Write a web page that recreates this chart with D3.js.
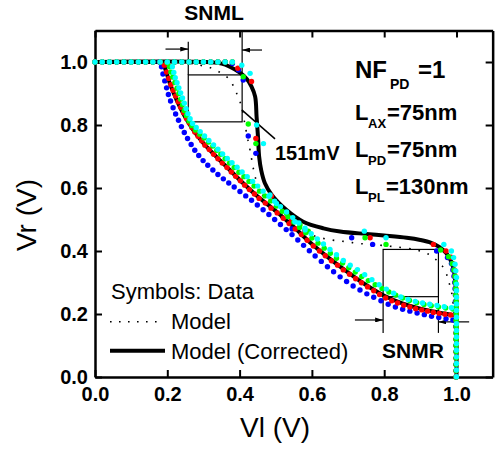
<!DOCTYPE html>
<html><head><meta charset="utf-8">
<script src="https://cdn.jsdelivr.net/npm/d3@7"></script>
<style>
html,body{margin:0;padding:0;background:#fff;}
svg{display:block;font-family:"Liberation Sans",Arial,sans-serif;}
</style></head><body>
<svg id="chart" width="495" height="451"></svg>
<script>
// ---------- tick values / labels ----------
const xTicks = [0, 0.2, 0.4, 0.6, 0.8, 1.0];
const yTicks = [0, 0.2, 0.4, 0.6, 0.8, 1.0];
const xTitle = "Vl (V)";
const yTitle = "Vr (V)";

// ---------- measured data: lower curve (Vr vs Vl) ----------
const blueLower = [[0,1],[0.02,1],[0.04,1],[0.06,1],[0.08,1],[0.1,1],[0.12,1],[0.14,1],[0.16,1],[0.178,1],[0.184,0.985],[0.188,0.962],[0.193,0.94],[0.198,0.918],[0.203,0.897],[0.209,0.876],[0.216,0.855],[0.223,0.835],[0.231,0.815],[0.239,0.795],[0.247,0.776],[0.256,0.757],[0.266,0.738],[0.276,0.72],[0.287,0.703],[0.299,0.687],[0.312,0.672],[0.326,0.657],[0.34,0.643],[0.355,0.629],[0.37,0.616],[0.385,0.603],[0.401,0.589],[0.417,0.575],[0.433,0.561],[0.449,0.546],[0.465,0.531],[0.481,0.516],[0.497,0.5],[0.513,0.484],[0.529,0.468],[0.545,0.452],[0.561,0.435],[0.577,0.418],[0.593,0.401],[0.609,0.384],[0.626,0.367],[0.643,0.35],[0.66,0.334],[0.678,0.318],[0.696,0.303],[0.714,0.289],[0.733,0.276],[0.752,0.264],[0.771,0.253],[0.791,0.242],[0.811,0.231],[0.831,0.222],[0.851,0.215],[0.871,0.209],[0.891,0.203],[0.911,0.198],[0.931,0.193],[0.951,0.189],[0.971,0.185],[0.99,0.181]];
const redLower = [[0,1],[0.02,1],[0.04,1],[0.06,1],[0.08,1],[0.1,1],[0.12,1],[0.14,1],[0.16,1],[0.18,1],[0.192,0.99],[0.198,0.968],[0.204,0.948],[0.21,0.928],[0.216,0.91],[0.223,0.892],[0.23,0.874],[0.237,0.856],[0.245,0.839],[0.253,0.821],[0.261,0.806],[0.268,0.792],[0.276,0.778],[0.285,0.764],[0.295,0.75],[0.304,0.736],[0.316,0.722],[0.328,0.707],[0.34,0.693],[0.352,0.679],[0.365,0.665],[0.377,0.651],[0.389,0.637],[0.402,0.623],[0.414,0.609],[0.427,0.595],[0.441,0.581],[0.454,0.567],[0.471,0.552],[0.487,0.536],[0.504,0.521],[0.521,0.504],[0.537,0.487],[0.554,0.47],[0.571,0.452],[0.587,0.434],[0.604,0.416],[0.621,0.4],[0.637,0.385],[0.654,0.369],[0.671,0.355],[0.687,0.34],[0.704,0.326],[0.721,0.312],[0.737,0.299],[0.754,0.286],[0.771,0.274],[0.787,0.262],[0.804,0.251],[0.821,0.242],[0.837,0.235],[0.854,0.228],[0.871,0.222],[0.887,0.217],[0.904,0.213],[0.92,0.209],[0.936,0.205],[0.952,0.202],[0.968,0.199],[0.984,0.197],[0.998,0.195]];
const greenLower = [[0,1],[0.02,1],[0.04,1],[0.06,1],[0.08,1],[0.1,1],[0.12,1],[0.14,1],[0.16,1],[0.18,1],[0.2,0.998],[0.206,0.985],[0.21,0.968],[0.215,0.952],[0.221,0.935],[0.227,0.917],[0.232,0.9],[0.237,0.882],[0.242,0.864],[0.247,0.846],[0.253,0.83],[0.26,0.813],[0.268,0.798],[0.278,0.784],[0.29,0.771],[0.302,0.759],[0.314,0.746],[0.326,0.733],[0.337,0.72],[0.348,0.707],[0.36,0.693],[0.372,0.679],[0.385,0.665],[0.398,0.65],[0.412,0.636],[0.426,0.621],[0.44,0.606],[0.455,0.59],[0.47,0.575],[0.486,0.559],[0.502,0.543],[0.518,0.526],[0.534,0.509],[0.55,0.492],[0.566,0.475],[0.583,0.458],[0.6,0.441],[0.617,0.425],[0.634,0.409],[0.651,0.393],[0.668,0.377],[0.685,0.362],[0.702,0.347],[0.72,0.333],[0.738,0.319],[0.756,0.306],[0.775,0.293],[0.794,0.281],[0.813,0.27],[0.832,0.26],[0.851,0.251],[0.87,0.243],[0.89,0.236],[0.91,0.23],[0.93,0.226],[0.95,0.222],[0.97,0.219],[0.99,0.216]];
const cyanLower = [[0,1],[0.02,1],[0.04,1],[0.06,1],[0.08,1],[0.1,1],[0.12,1],[0.14,1],[0.16,1],[0.18,1],[0.2,1],[0.214,0.985],[0.218,0.967],[0.222,0.95],[0.227,0.934],[0.232,0.918],[0.237,0.902],[0.242,0.886],[0.247,0.869],[0.252,0.852],[0.257,0.836],[0.263,0.82],[0.27,0.805],[0.28,0.792],[0.291,0.779],[0.303,0.765],[0.315,0.751],[0.328,0.737],[0.34,0.723],[0.353,0.708],[0.366,0.694],[0.379,0.68],[0.393,0.666],[0.407,0.651],[0.421,0.636],[0.436,0.621],[0.45,0.606],[0.465,0.59],[0.481,0.574],[0.497,0.558],[0.513,0.541],[0.53,0.524],[0.547,0.506],[0.564,0.489],[0.581,0.472],[0.598,0.455],[0.615,0.438],[0.632,0.422],[0.65,0.405],[0.668,0.388],[0.687,0.37],[0.706,0.355],[0.726,0.341],[0.746,0.325],[0.766,0.309],[0.786,0.293],[0.806,0.279],[0.826,0.266],[0.846,0.254],[0.866,0.246],[0.886,0.24],[0.906,0.235],[0.926,0.231],[0.946,0.227],[0.966,0.223],[0.986,0.22]];

// ---------- measured data: upper curve (Vl vs Vr) ----------
const blueUpper = [[0.2,1],[0.22,1],[0.24,1],[0.26,1],[0.28,1],[0.3,1],[0.32,1],[0.34,1],[0.36,1],[0.38,0.995],[0.397,0.975],[0.41,0.943],[0.424,0.765],[0.445,0.71],[0.545,0.47],[0.71,0.442],[0.768,0.421],[0.945,0.4],[0.975,0.379],[0.986,0.36],[0.99,0.34],[0.993,0.32],[0.995,0.3],[0.996,0.28],[0.997,0.26],[0.997,0.24],[0.998,0.22],[0.998,0.2],[0.998,0.18],[0.998,0.16],[0.999,0.14],[0.999,0.12],[0.999,0.1],[0.999,0.08],[0.999,0.06],[0.999,0.04],[0.999,0.02],[0.999,0]];
const redUpper = [[0.2,1],[0.22,1],[0.24,1],[0.26,1],[0.28,1],[0.3,1],[0.32,1],[0.34,1],[0.36,1],[0.38,1],[0.395,0.98],[0.433,0.938],[0.445,0.757],[0.488,0.575],[0.544,0.498],[0.58,0.465],[0.761,0.442],[0.936,0.421],[0.971,0.4],[0.985,0.38],[0.99,0.36],[0.994,0.34],[0.996,0.32],[0.997,0.3],[0.998,0.28],[0.998,0.26],[0.999,0.24],[0.999,0.22],[0.999,0.2],[0.999,0.18],[0.999,0.16],[0.999,0.14],[0.999,0.12],[0.999,0.1],[0.999,0.08],[0.999,0.06],[0.999,0.04],[0.999,0.02],[0.999,0]];
const greenUpper = [[0.2,1],[0.22,1],[0.24,1],[0.26,1],[0.28,1],[0.3,1],[0.32,1],[0.34,1],[0.36,1],[0.38,1],[0.41,0.953],[0.424,0.803],[0.445,0.741],[0.53,0.519],[0.567,0.483],[0.59,0.463],[0.747,0.442],[0.805,0.421],[0.956,0.403],[0.978,0.382],[0.988,0.36],[0.993,0.34],[0.996,0.32],[0.997,0.3],[0.998,0.28],[0.998,0.26],[0.999,0.24],[0.999,0.22],[0.999,0.2],[0.999,0.18],[0.999,0.16],[0.999,0.14],[0.999,0.12],[0.999,0.1],[0.999,0.08],[0.999,0.06],[0.999,0.04],[0.999,0.02],[0.999,0]];
const cyanUpper = [[0.22,1],[0.24,1],[0.26,1],[0.28,1],[0.3,1],[0.32,1],[0.34,1],[0.36,1],[0.38,1],[0.406,0.99],[0.429,0.964],[0.447,0.8],[0.466,0.741],[0.484,0.578],[0.502,0.551],[0.553,0.493],[0.581,0.467],[0.745,0.463],[0.805,0.442],[0.965,0.421],[0.986,0.4],[0.992,0.379],[0.996,0.358],[0.998,0.337],[1,0.316],[1,0.295],[1,0.274],[1,0.253],[1,0.232],[1,0.211],[1,0.19],[1,0.169],[1,0.148],[1,0.127],[1,0.106],[1,0.085],[1,0.064],[1,0.043],[1,0.022],[1,0.001]];

// ---------- model curves ----------
const modelLower = [[0,1],[0.17,1],[0.185,0.996],[0.192,0.985],[0.207,0.935],[0.226,0.88],[0.249,0.827],[0.272,0.785],[0.3,0.743],[0.336,0.7],[0.373,0.658],[0.41,0.616],[0.45,0.574],[0.5,0.527],[0.55,0.476],[0.6,0.423],[0.65,0.376],[0.7,0.333],[0.75,0.293],[0.8,0.259],[0.85,0.235],[0.9,0.218],[0.95,0.206],[1.0,0.196]];
const modelUpper = [[0,1],[0.2,1],[0.25,0.998],[0.29,0.99],[0.323,0.98],[0.35,0.964],[0.373,0.943],[0.39,0.905],[0.405,0.86],[0.415,0.8],[0.424,0.747],[0.429,0.72],[0.438,0.662],[0.447,0.62],[0.46,0.585],[0.48,0.55],[0.51,0.51],[0.55,0.48],[0.609,0.447],[0.655,0.435],[0.692,0.43],[0.728,0.424],[0.765,0.421],[0.825,0.414],[0.89,0.403],[0.927,0.387],[0.95,0.365],[0.968,0.34],[0.977,0.308],[0.986,0.271],[0.992,0.22],[0.996,0.15],[0.999,0.07],[1.0,0]];
const correctedLower = [[0,1],[0.17,1],[0.183,0.998],[0.19,0.99],[0.207,0.932],[0.226,0.879],[0.249,0.826],[0.272,0.784],[0.3,0.742],[0.336,0.699],[0.373,0.657],[0.41,0.615],[0.45,0.573],[0.5,0.527],[0.55,0.476],[0.6,0.422],[0.65,0.375],[0.7,0.332],[0.75,0.292],[0.8,0.258],[0.85,0.234],[0.9,0.217],[0.95,0.205],[1.0,0.195]];
const correctedUpper = [[0,1],[0.3,1],[0.35,0.995],[0.373,0.985],[0.401,0.966],[0.42,0.946],[0.433,0.922],[0.443,0.89],[0.447,0.826],[0.451,0.76],[0.454,0.7],[0.46,0.655],[0.47,0.615],[0.489,0.578],[0.53,0.53],[0.576,0.493],[0.632,0.472],[0.678,0.462],[0.75,0.454],[0.8,0.449],[0.862,0.442],[0.9,0.435],[0.93,0.426],[0.952,0.413],[0.972,0.393],[0.986,0.365],[0.994,0.33],[0.998,0.28],[1.0,0.2],[1.0,0]];

// ---------- annotation values ----------
const snmL = {x0:0.258, x1:0.407, y0:0.81, y1:0.959};
const snmR = {x0:0.797, x1:0.95, y0:0.255, y1:0.405};
const snmLabel = "151mV";

// ---------- setup ----------
const svg = d3.select("#chart");
const x = d3.scaleLinear().domain([0, 1.1]).range([95, 492.65]);
const y = d3.scaleLinear().domain([0, 1.1]).range([377, 30.5]);

const defs = svg.append("defs");
defs.append("marker").attr("id","arr").attr("viewBox","0 0 10 10")
  .attr("refX",10).attr("refY",5).attr("markerWidth",8).attr("markerHeight",5)
  .attr("markerUnits","userSpaceOnUse").attr("orient","auto").attr("preserveAspectRatio","none")
  .append("path").attr("d","M0,0L10,5L0,10Z").attr("fill","#000");

// ---------- axes ----------
const fmt = d3.format(".1f");
const tickFont = g => g.selectAll("text").attr("font-size",20).attr("font-weight","bold")
  .attr("font-family","'Liberation Sans',Arial,sans-serif").attr("fill","#000");
const axStyle = g => { g.select(".domain").attr("stroke","#000").attr("stroke-width",2.5);
  g.selectAll(".tick line").attr("stroke","#000").attr("stroke-width",2); };

svg.append("g").attr("transform",`translate(0,${y(0)})`)
  .call(d3.axisBottom(x).tickValues(xTicks).tickFormat(fmt).tickSize(-7).tickSizeOuter(0).tickPadding(10))
  .call(axStyle).call(tickFont);
svg.append("g").attr("transform",`translate(0,${y(1.1)})`)
  .call(d3.axisTop(x).tickValues(xTicks).tickFormat("").tickSize(-7).tickSizeOuter(0))
  .call(axStyle);
svg.append("g").attr("transform",`translate(${x(0)},0)`)
  .call(d3.axisLeft(y).tickValues(yTicks).tickFormat(fmt).tickSize(-7).tickSizeOuter(0).tickPadding(7))
  .call(axStyle).call(tickFont);
svg.append("g").attr("transform",`translate(${x(1.1)},0)`)
  .call(d3.axisRight(y).tickValues(yTicks).tickFormat("").tickSize(-7).tickSizeOuter(0))
  .call(axStyle);

svg.append("text").attr("x",275).attr("y",437).attr("text-anchor","middle")
  .attr("font-size",28).text(xTitle);
svg.append("text").attr("transform","translate(36,215) rotate(-90)").attr("text-anchor","middle")
  .attr("font-size",28).text(yTitle);

// ---------- SNM boxes & arrows ----------
const ann = svg.append("g").attr("stroke","#000").attr("stroke-width",1.2).attr("fill","none");
ann.append("rect").attr("x",x(snmL.x0)).attr("y",y(snmL.y1))
  .attr("width",x(snmL.x1)-x(snmL.x0)).attr("height",y(snmL.y0)-y(snmL.y1));
ann.append("line").attr("x1",x(snmL.x0)).attr("x2",x(snmL.x0)).attr("y1",y(snmL.y1)).attr("y2",y(1.064));
ann.append("line").attr("x1",x(snmL.x1)).attr("x2",x(snmL.x1)).attr("y1",y(snmL.y1)).attr("y2",y(1.1));
ann.append("line").attr("x1",x(0.195)).attr("x2",x(snmL.x0)).attr("y1",y(1.041)).attr("y2",y(1.041)).attr("marker-end","url(#arr)");
ann.append("line").attr("x1",x(0.462)).attr("x2",x(snmL.x1)).attr("y1",y(1.038)).attr("y2",y(1.038)).attr("marker-end","url(#arr)");
ann.append("line").attr("x1",x(0.406)).attr("y1",y(0.848)).attr("x2",x(0.498)).attr("y2",y(0.756)).attr("stroke-width",1.5);

ann.append("rect").attr("x",x(snmR.x0)).attr("y",y(snmR.y1))
  .attr("width",x(snmR.x1)-x(snmR.x0)).attr("height",y(snmR.y0)-y(snmR.y1));
ann.append("line").attr("x1",x(snmR.x0)).attr("x2",x(snmR.x0)).attr("y1",y(snmR.y0)).attr("y2",y(0.14));
ann.append("line").attr("x1",x(snmR.x1)).attr("x2",x(snmR.x1)).attr("y1",y(snmR.y0)).attr("y2",y(0.14));
ann.append("line").attr("x1",x(0.719)).attr("x2",x(snmR.x0)).attr("y1",y(0.181)).attr("y2",y(0.181)).attr("marker-end","url(#arr)");
ann.append("line").attr("x1",x(1.035)).attr("x2",x(snmR.x1)).attr("y1",y(0.175)).attr("y2",y(0.175)).attr("marker-end","url(#arr)");

// ---------- model lines ----------
const line = d3.line().x(d=>x(d[0])).y(d=>y(d[1])).curve(d3.curveCatmullRom.alpha(0.5));
[modelLower, modelUpper].forEach(d => svg.append("path").datum(d).attr("d",line)
  .attr("fill","none").attr("stroke","#000").attr("stroke-width",1.6).attr("stroke-dasharray","1.6,8"));
[correctedLower, correctedUpper].forEach(d => svg.append("path").datum(d).attr("d",line)
  .attr("fill","none").attr("stroke","#000").attr("stroke-width",4).attr("stroke-linejoin","round"));

// ---------- data symbols ----------
const sets = [
  {data: blueLower, color:"#0000FF"}, {data: blueUpper, color:"#0000FF"},
  {data: redLower, color:"#FF0000"}, {data: redUpper, color:"#FF0000"},
  {data: greenLower, color:"#00FF00"}, {data: greenUpper, color:"#00FF00"},
  {data: cyanLower, color:"#00FFFF"}, {data: cyanUpper, color:"#00FFFF"}
];
sets.forEach(s => svg.append("g").selectAll("circle").data(s.data).join("circle")
  .attr("cx",d=>x(d[0])).attr("cy",d=>y(d[1])).attr("r",2.7).attr("fill",s.color));

// ---------- labels ----------
const bold = (t,px,py,fs,anchor) => svg.append("text").attr("x",px).attr("y",py)
  .attr("font-size",fs).attr("font-weight","bold").attr("text-anchor",anchor||"start").text(t);
bold("SNML",214,20,21,"middle");
bold("SNMR",382,358,21);
bold(snmLabel,275,160,20);
bold("NF",355,78,24); bold("PD",390,89,14); bold("=1",418,78,24);
bold("L",355,120,22); bold("AX",368,128,13); bold("=75nm",387,120,22);
bold("L",355,157,22); bold("PD",368,165,13); bold("=75nm",387,157,22);
bold("L",355,193.5,22); bold("PL",368,201.5,13); bold("=130nm",386,193.5,22);

// ---------- legend ----------
svg.append("text").attr("x",111).attr("y",299).attr("font-size",22).text("Symbols: Data");
svg.append("line").attr("x1",110).attr("x2",158).attr("y1",321.7).attr("y2",321.7)
  .attr("stroke","#000").attr("stroke-width",1.6).attr("stroke-dasharray","1.6,7.4");
svg.append("text").attr("x",171).attr("y",329).attr("font-size",22).text("Model");
svg.append("line").attr("x1",110).attr("x2",165).attr("y1",350.7).attr("y2",350.7)
  .attr("stroke","#000").attr("stroke-width",4);
svg.append("text").attr("x",171).attr("y",359).attr("font-size",22).text("Model (Corrected)");
</script>
</body></html>
